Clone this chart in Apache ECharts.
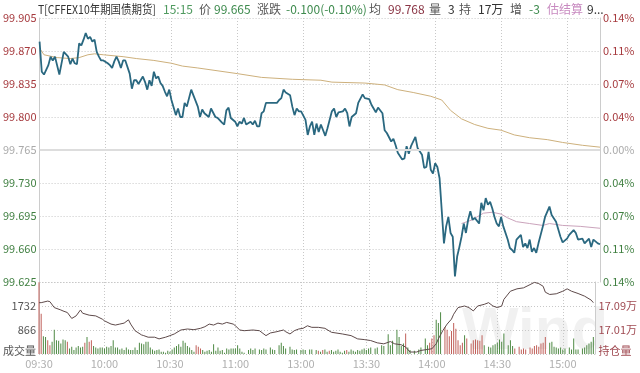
<!DOCTYPE html>
<html><head><meta charset="utf-8">
<script src="https://cdn.jsdelivr.net/npm/echarts@6/dist/echarts.min.js"></script>
<style>html,body{margin:0;padding:0;background:#fff}#c{width:640px;height:373px}</style>
</head><body><div id="c"></div>
<script>
const prevSettle = 99.765;
const timeTicks = ['09:30','10:00','10:30','11:00','13:00','13:30','14:00','14:30','15:00'];
const priceTicks = ['99.625','99.660','99.695','99.730','99.765','99.800','99.835','99.870','99.905'];
const pctTicks = ['0.14%','0.11%','0.07%','0.04%','0.00%','0.04%','0.07%','0.11%','0.14%'];
const volTicks = ['成交量','866','1732',''];
const oiTicks = ['持仓量','17.01万','17.09万',''];
const oiBase = 169300;

// minute index (0 = 09:30, 120 = 11:30/13:00, 255 = 15:15), price
const price = [[0,99.880],[1,99.848],[2,99.845],[4,99.855],[5,99.864],[6,99.860],[7,99.864],[9,99.845],[11,99.869],[13,99.864],[14,99.856],[15,99.862],[16,99.857],[17,99.856],[18,99.878],[19,99.876],[20,99.882],[21,99.889],[22,99.883],[23,99.885],[24,99.880],[25,99.882],[26,99.869],[27,99.864],[28,99.860],[29,99.860],[31,99.857],[32,99.855],[33,99.852],[34,99.859],[35,99.864],[36,99.859],[37,99.852],[38,99.860],[39,99.860],[41,99.846],[42,99.830],[43,99.839],[44,99.839],[45,99.835],[47,99.843],[48,99.837],[49,99.829],[50,99.839],[51,99.833],[52,99.848],[53,99.841],[54,99.843],[55,99.836],[56,99.833],[57,99.827],[58,99.822],[59,99.829],[60,99.818],[61,99.810],[62,99.802],[63,99.809],[64,99.800],[65,99.800],[66,99.815],[67,99.811],[69,99.829],[70,99.823],[72,99.811],[73,99.800],[74,99.808],[75,99.804],[77,99.800],[78,99.809],[80,99.800],[81,99.799],[83,99.794],[84,99.792],[85,99.807],[86,99.810],[87,99.799],[89,99.795],[90,99.790],[91,99.795],[92,99.793],[93,99.799],[94,99.792],[96,99.795],[97,99.792],[98,99.796],[99,99.790],[100,99.790],[101,99.804],[102,99.806],[103,99.815],[106,99.815],[108,99.815],[109,99.818],[110,99.820],[111,99.829],[112,99.826],[114,99.823],[115,99.811],[116,99.802],[117,99.809],[118,99.806],[119,99.806],[121,99.797],[122,99.781],[123,99.790],[124,99.795],[125,99.781],[126,99.793],[127,99.784],[128,99.792],[130,99.780],[131,99.788],[133,99.806],[134,99.809],[135,99.800],[136,99.805],[138,99.806],[139,99.809],[140,99.804],[141,99.790],[142,99.800],[144,99.804],[145,99.815],[147,99.824],[148,99.820],[150,99.819],[151,99.813],[153,99.805],[154,99.810],[156,99.804],[157,99.786],[158,99.783],[160,99.774],[161,99.777],[162,99.770],[163,99.762],[165,99.755],[166,99.756],[167,99.769],[168,99.761],[169,99.769],[171,99.779],[172,99.767],[174,99.760],[175,99.746],[176,99.747],[177,99.763],[178,99.744],[179,99.740],[180,99.751],[181,99.747],[182,99.735],[184,99.666],[185,99.684],[186,99.694],[187,99.677],[188,99.673],[189,99.631],[190,99.652],[191,99.662],[192,99.673],[193,99.687],[194,99.677],[195,99.691],[196,99.700],[197,99.691],[198,99.693],[200,99.687],[201,99.709],[202,99.701],[203,99.714],[204,99.707],[205,99.710],[206,99.703],[207,99.694],[208,99.687],[209,99.684],[210,99.694],[211,99.684],[213,99.670],[214,99.661],[215,99.659],[216,99.656],[217,99.670],[219,99.675],[220,99.662],[221,99.666],[222,99.661],[223,99.670],[224,99.657],[225,99.661],[226,99.656],[227,99.666],[229,99.684],[230,99.694],[232,99.705],[233,99.696],[235,99.689],[237,99.673],[238,99.667],[240,99.671],[241,99.675],[243,99.680],[244,99.677],[245,99.670],[247,99.671],[248,99.666],[250,99.671],[251,99.662],[252,99.670],[254,99.666],[255,99.665]];

const avgPrice = [[0,99.873],[2,99.866],[8,99.863],[14,99.862],[18,99.863],[22,99.866],[25,99.867],[29,99.866],[38,99.864],[44,99.862],[52,99.860],[60,99.857],[65,99.854],[72,99.852],[90,99.846],[101,99.842],[115,99.840],[128,99.839],[133,99.837],[148,99.836],[157,99.834],[163,99.829],[170,99.826],[178,99.822],[183,99.818],[187,99.807],[192,99.798],[198,99.792],[204,99.788],[210,99.786],[216,99.781],[223,99.778],[231,99.776],[238,99.773],[247,99.770],[255,99.768]];

const estSettle = [[192,99.687],[197,99.691],[199,99.694],[202,99.698],[206,99.699],[210,99.697],[213,99.693],[217,99.689],[223,99.687],[229,99.685],[232,99.687],[238,99.685],[246,99.684],[255,99.682]];

// [minute, volume, direction(1 up / -1 down)]
const volume = [[0,2590,1],[1,1448,1],[2,641,-1],[3,617,-1],[4,498,1],[5,320,1],[6,439,-1],[7,878,-1],[8,498,-1],[9,475,-1],[10,380,-1],[11,522,-1],[12,498,-1],[13,439,1],[14,202,-1],[15,261,-1],[16,142,-1],[17,237,-1],[18,285,-1],[19,237,-1],[20,261,-1],[21,403,1],[22,617,-1],[23,439,1],[24,498,1],[25,285,-1],[26,237,-1],[27,202,-1],[28,237,-1],[29,237,-1],[30,202,-1],[31,261,-1],[32,237,-1],[33,285,-1],[34,498,-1],[35,237,-1],[36,237,-1],[37,166,-1],[38,202,-1],[39,142,-1],[40,237,-1],[41,166,-1],[42,142,-1],[43,142,-1],[44,237,-1],[45,142,-1],[46,403,-1],[47,380,-1],[48,356,-1],[49,439,-1],[50,439,-1],[51,237,-1],[52,166,-1],[53,119,-1],[54,142,-1],[55,166,-1],[56,83,-1],[57,83,-1],[58,47,-1],[59,119,-1],[60,83,-1],[61,166,-1],[62,237,-1],[63,285,-1],[64,356,-1],[65,261,-1],[66,475,-1],[67,403,-1],[68,285,-1],[69,237,-1],[70,142,-1],[71,83,-1],[72,320,1],[73,261,1],[74,202,1],[75,142,-1],[76,83,-1],[77,119,-1],[78,142,-1],[79,83,-1],[80,356,-1],[81,119,-1],[82,237,-1],[83,119,-1],[84,142,-1],[85,47,-1],[86,202,-1],[87,166,-1],[88,202,-1],[89,202,-1],[90,202,-1],[91,320,-1],[92,202,-1],[93,83,-1],[94,47,-1],[96,142,-1],[97,202,-1],[98,142,-1],[99,202,-1],[101,166,-1],[102,142,-1],[103,202,-1],[104,166,-1],[106,237,-1],[107,166,-1],[108,142,-1],[110,320,-1],[111,403,-1],[112,285,-1],[113,202,-1],[115,261,-1],[116,166,-1],[117,142,-1],[118,166,-1],[120,142,-1],[121,166,-1],[122,142,-1],[124,166,-1],[125,166,-1],[127,142,-1],
[128,119,1],[129,83,-1],[130,142,1],[131,166,-1],[132,83,-1],[133,119,1],[134,142,-1],[135,83,-1],[136,119,-1],[137,166,-1],[138,83,-1],[139,47,-1],[140,119,-1],[141,142,1],[142,83,-1],[143,166,-1],[144,119,-1],[145,83,-1],[146,142,-1],[147,119,-1],[148,166,-1],[149,202,-1],[150,142,-1],
[151,202,-1],[152,237,-1],[154,202,-1],[155,237,-1],[157,320,-1],[158,285,-1],[160,712,-1],[161,320,-1],[162,475,-1],[164,878,-1],[165,617,-1],[166,285,-1],[167,380,-1],[168,736,1],[169,237,-1],[170,142,-1],[172,119,-1],[174,166,-1],[175,237,-1],[177,558,-1],[178,320,-1],[179,403,1],[180,558,1],[181,676,1],[182,1234,-1],[183,1115,-1],[184,1507,-1],[186,973,1],[187,878,1],[188,641,1],[189,830,1],[190,1115,1],[191,914,1],[192,498,1],[193,320,1],[194,403,1],[195,676,-1],[196,558,1],[198,380,1],[199,498,1],[200,522,1],[201,498,1],[202,475,1],[203,676,1],[204,320,-1],[206,261,-1],[207,237,-1],[208,320,-1],[209,356,-1],[210,403,-1],[211,522,-1],[212,439,-1],[213,736,-1],[215,320,-1],[216,498,-1],[217,285,-1],[218,202,1],[220,261,1],[221,166,1],[222,202,1],[223,166,1],[225,237,1],[226,202,1],[227,285,1],[228,320,1],[229,261,1],[230,380,1],[231,403,1],[232,617,1],[234,403,-1],[235,439,-1],[236,261,-1],[237,237,-1],[238,202,-1],[239,237,-1],[240,166,-1],[241,202,-1],[243,237,-1],[244,166,-1],[245,558,-1],[246,166,-1],[247,166,-1],[249,202,-1],[250,237,-1],[251,320,-1],[252,380,-1],[253,439,-1],[254,617,-1]];

const openInterest = [[0,171011],[1,171011],[4,171064],[5,171044],[7,170847],[10,170768],[11,170735],[13,170682],[15,170485],[17,170570],[19,170768],[20,170659],[23,170594],[26,170570],[29,170462],[30,170406],[33,170297],[35,170265],[37,170297],[39,170330],[41,170439],[42,170297],[44,170077],[47,169935],[48,169912],[50,169860],[53,169860],[55,169804],[58,169860],[60,169912],[62,169968],[65,170100],[68,170133],[71,170110],[74,170156],[76,170209],[78,170297],[80,170265],[82,170330],[84,170297],[86,170353],[89,170297],[90,170241],[92,170100],[94,170077],[98,170100],[101,170077],[104,169912],[106,170001],[109,170044],[112,170100],[113,170044],[115,169968],[117,170077],[119,170133],[121,170156],[123,170241],[125,170189],[128,170189],[131,170156],[134,170024],[139,169968],[143,169912],[146,169804],[149,169781],[152,169748],[155,169672],[158,169639],[161,169715],[163,169639],[166,169607],[168,169531],[170,169366],[173,169366],[175,169419],[178,169452],[180,169475],[182,169639],[183,169804],[185,170077],[187,170297],[189,170462],[190,170626],[192,170847],[195,170900],[197,170847],[199,170735],[201,170900],[204,170955],[206,171011],[208,170900],[210,170847],[212,170900],[213,171120],[216,171393],[219,171472],[222,171505],[225,171613],[227,171689],[229,171646],[231,171557],[232,171360],[234,171284],[237,171307],[240,171393],[242,171472],[244,171393],[247,171317],[250,171228],[253,171097],[254,171011]];

const headerParts = [
  ['T[CFFEX10年期国债期货]', '#333333'], ['15:15', '#4f9a5f'], ['价', '#555555'], ['99.665', '#3d8a4d'],
  ['涨跌', '#555555'], ['-0.100(-0.10%)', '#3d8a4d'], ['均', '#555555'], ['99.768', '#8a3444'],
  ['量', '#555555'], ['3', '#333333'], ['持', '#555555'], ['17万', '#333333'], ['增', '#555555'],
  ['-3', '#3d8a4d'], ['估结算', '#c88ac0'], ['9...', '#333333']
];
const headerX = [38, 163, 199, 214, 257, 286, 369, 388, 429, 448, 459, 478, 510, 529, 547, 587];
const headerScale = [0.87, 1, 1, 1, 1, 1, 1, 1, 1, 1, 1, 1, 1, 1, 1, 1];

const FONT = '"Microsoft YaHei","Noto Sans CJK SC",sans-serif';
const RED = '#a63a3e', GREEN = '#3f7f40', GREY = '#aaaaaa';
const off = p => +((p - prevSettle) * 1000).toFixed(3);

const chart = echarts.init(document.getElementById('c'), null, {renderer: 'canvas'});
const dotted = {type: [1, 2], color: '#c8c8c8', width: 1};
const lift = {padding: [0, 0, 7, 0]};

chart.setOption({
  animation: false,
  backgroundColor: '#fff',
  textStyle: {fontFamily: FONT},
  grid: [
    {left: 37, right: 40, top: 18, height: 264},
    {left: 37, right: 40, top: 282, height: 72}
  ],
  xAxis: [
    {gridIndex: 0, type: 'value', min: 0, max: 255, interval: 30,
     axisLine: {show: false}, axisTick: {show: false}, axisLabel: {show: false},
     splitLine: {show: true, lineStyle: dotted}},
    {gridIndex: 1, type: 'value', min: 0, max: 255, interval: 30,
     axisLine: {show: false}, axisTick: {show: false},
     axisLabel: {color: '#b0b0b0', fontSize: 11, margin: 4, fontFamily: FONT,
       formatter: v => (v % 30 === 0 && timeTicks[v / 30]) ? timeTicks[v / 30] : ''},
     splitLine: {show: true, lineStyle: dotted}}
  ],
  yAxis: [
    {gridIndex: 0, type: 'value', position: 'left', min: -140, max: 140, interval: 35,
     axisLine: {show: true, lineStyle: {color: '#cccccc'}}, axisTick: {show: false},
     splitLine: {show: true, lineStyle: dotted},
     axisLabel: {margin: 3, fontSize: 11, fontFamily: FONT,
       formatter: v => { const i = Math.round((v + 140) / 35); const c = v > 0 ? 'r' : (v < 0 ? 'g' : 'z'); return '{' + c + '|' + priceTicks[i] + '}'; },
       rich: {r: {color: RED, fontSize: 11, fontFamily: FONT}, g: {color: GREEN, fontSize: 11, fontFamily: FONT}, z: {color: GREY, fontSize: 11, fontFamily: FONT}}}},
    {gridIndex: 0, type: 'value', position: 'right', min: -140, max: 140, interval: 35,
     axisLine: {show: true, lineStyle: {color: '#cccccc'}}, axisTick: {show: false},
     splitLine: {show: false},
     axisLabel: {margin: 3, fontSize: 11, fontFamily: FONT,
       formatter: v => { const i = Math.round((v + 140) / 35); const c = v > 0 ? 'r' : (v < 0 ? 'g' : 'z'); return '{' + c + '|' + pctTicks[i] + '}'; },
       rich: {r: {color: RED, fontSize: 11, fontFamily: FONT}, g: {color: GREEN, fontSize: 11, fontFamily: FONT}, z: {color: GREY, fontSize: 11, fontFamily: FONT}}}},
    {gridIndex: 1, type: 'value', position: 'left', min: 0, max: 2598, interval: 866,
     axisLine: {show: true, lineStyle: {color: '#cccccc'}}, axisTick: {show: false},
     splitLine: {show: true, lineStyle: dotted},
     axisLabel: {margin: 3, fontSize: 11, color: '#555555', fontFamily: FONT,
       formatter: v => { const i = Math.round(v / 866); return i === 0 ? '{b|' + volTicks[0] + '}' : (volTicks[i] || ''); },
       rich: {b: Object.assign({color: '#555555', fontSize: 11, fontFamily: FONT}, lift)}}},
    {gridIndex: 1, type: 'value', position: 'right', min: 0, max: 2400, interval: 800,
     axisLine: {show: true, lineStyle: {color: '#cccccc'}}, axisTick: {show: false},
     splitLine: {show: false},
     axisLabel: {margin: 3, fontSize: 11, color: '#a04a52', fontFamily: FONT,
       formatter: v => { const i = Math.round(v / 800); return i === 0 ? '{b|' + oiTicks[0] + '}' : (oiTicks[i] || ''); },
       rich: {b: Object.assign({color: '#a04a52', fontSize: 11, fontFamily: FONT}, lift)}}}
  ],
  graphic: [
    {type: 'text', left: 462, top: 302, z: 0, silent: true,
     style: {text: 'Wind', fontSize: 60, fontWeight: 'bold', fontFamily: 'Arial, "Liberation Sans", sans-serif', fill: 'rgba(0,0,0,0.055)'}}
  ].concat(headerParts.map((p, i) => ({
    type: 'text', x: headerX[i], y: 3, scaleX: headerScale[i], z: 10, silent: true,
    style: {text: p[0], fill: p[1], fontSize: 12, fontFamily: FONT}
  }))),
  series: [
    {type: 'line', xAxisIndex: 0, yAxisIndex: 0, data: avgPrice.map(d => [d[0], off(d[1])]),
     showSymbol: false, lineStyle: {color: '#cdb07c', width: 1}, z: 2,
     markLine: {silent: true, symbol: 'none', label: {show: false},
       lineStyle: {color: '#dddddd', width: 2, type: 'solid'}, data: [{yAxis: 0}]}},
    {type: 'line', xAxisIndex: 0, yAxisIndex: 0, data: estSettle.map(d => [d[0], off(d[1])]),
     showSymbol: false, lineStyle: {color: '#cba4bc', width: 1}, z: 2},
    {type: 'line', xAxisIndex: 0, yAxisIndex: 0, data: price.map(d => [d[0], off(d[1])]),
     showSymbol: false, lineStyle: {color: '#2a6880', width: 1.8}, z: 3},
    {type: 'bar', xAxisIndex: 1, yAxisIndex: 2, barWidth: 1,
     data: volume.map(d => ({value: [d[0], d[1]], itemStyle: {color: d[2] > 0 ? '#c0605a' : '#4f8a45'}})), z: 2},
    {type: 'line', xAxisIndex: 1, yAxisIndex: 3, data: openInterest.map(d => [d[0], d[1] - oiBase]),
     showSymbol: false, lineStyle: {color: '#5e4a4a', width: 1}, z: 3}
  ]
});
</script>
</body></html>
